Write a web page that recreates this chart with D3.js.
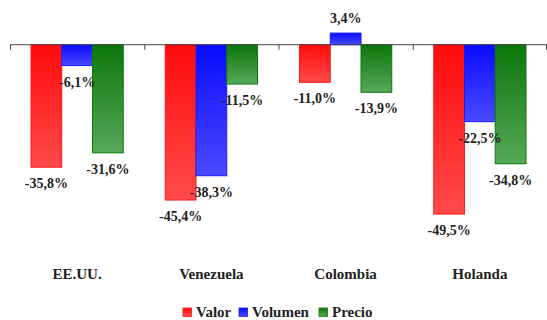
<!DOCTYPE html>
<html><head><meta charset="utf-8">
<script src="https://cdn.jsdelivr.net/npm/d3@7"></script>
<style>body{margin:0;background:#fff}svg{display:block}</style>
</head><body>
<svg id="c" width="547" height="320"></svg>
<script>
const categories = ["EE.UU.", "Venezuela", "Colombia", "Holanda"];
const seriesNames = ["Valor", "Volumen", "Precio"];
const valor = [-35.8, -45.4, -11.0, -49.5];
const volumen = [-6.1, -38.3, 3.4, -22.5];
const precio = [-31.6, -11.5, -13.9, -34.8];
const colorsTop = ["#ff0a0a", "#0a0aff", "#0b760b"];
const colorsBottom = ["#ff4a4a", "#4a4aff", "#58a858"];
const strokeCols = ["#ff1a1a", "#1a1aff", "#0a7a0a"];

const seriesValues = [valor, volumen, precio];
const FONT = "'Liberation Serif'";
const svg = d3.select("#c");
const defs = svg.append("defs");
seriesNames.forEach((s, i) => {
  const g = defs.append("linearGradient").attr("id", "g" + i)
    .attr("x1", 0).attr("y1", 0).attr("x2", 0).attr("y2", 1);
  g.append("stop").attr("offset", "0%").attr("stop-color", colorsTop[i]);
  g.append("stop").attr("offset", "100%").attr("stop-color", colorsBottom[i]);
});

const x = d3.scaleBand().domain(categories).range([10, 547]).padding(0);
const inner = d3.scaleBand().domain(seriesNames).range([21, x.bandwidth() - 21]).padding(0);
const y = d3.scaleLinear().domain([-60, 10]).range([250, 10.5]);

const data = [];
categories.forEach((c, ci) => {
  seriesNames.forEach((s, si) => {
    data.push({c, s, si, v: seriesValues[si][ci]});
  });
});

function styleText(sel, size) {
  return sel.style("font-family", FONT).style("font-weight", "bold")
    .style("font-size", size + "px").style("fill", "#222");
}

// bars
svg.append("g").selectAll("rect").data(data).join("rect")
  .attr("x", d => x(d.c) + inner(d.s))
  .attr("width", inner.bandwidth())
  .attr("y", d => Math.min(y(d.v), y(0)))
  .attr("height", d => Math.abs(y(d.v) - y(0)))
  .attr("fill", d => "url(#g" + d.si + ")")
  .attr("stroke", d => strokeCols[d.si])
  .attr("stroke-width", 1);

// axis at zero
const ax = svg.append("g").attr("transform", `translate(0,${y(0)})`);
ax.append("line").attr("x1", 10).attr("x2", 547).attr("y1", 0).attr("y2", 0)
  .attr("stroke", "#444").attr("stroke-width", 1);
const tickPos = categories.map(c => x(c)).concat([x.range()[1] - 1]);
ax.selectAll("line.tk").data(tickPos).join("line").attr("class", "tk")
  .attr("x1", d => d + 0.5).attr("x2", d => d + 0.5).attr("y1", 0).attr("y2", 5)
  .attr("stroke", "#444");

// value labels
styleText(svg.append("g").selectAll("text").data(data).join("text")
  .attr("x", d => x(d.c) + inner(d.s) + inner.bandwidth() / 2)
  .attr("y", d => d.v < 0 ? y(d.v) + 21 : y(d.v) - 10)
  .attr("text-anchor", "middle"), 14)
  .text(d => d3.format(".1f")(d.v).replace(".", ",").replace("−", "-") + "%");

// category labels
styleText(svg.append("g").selectAll("text").data(categories).join("text")
  .attr("x", d => x(d) + x.bandwidth() / 2)
  .attr("y", 279)
  .attr("text-anchor", "middle"), 15)
  .text(d => d);

// legend
const legX = [183, 239, 319];
const leg = svg.append("g");
seriesNames.forEach((s, i) => {
  leg.append("rect").attr("x", legX[i]).attr("y", 308).attr("width", 8.5).attr("height", 8.5)
    .attr("fill", "url(#g" + i + ")").attr("stroke", strokeCols[i]).attr("stroke-width", 0.8);
  styleText(leg.append("text").attr("x", legX[i] + 13).attr("y", 317), 15).text(s);
});
</script>
</body></html>
